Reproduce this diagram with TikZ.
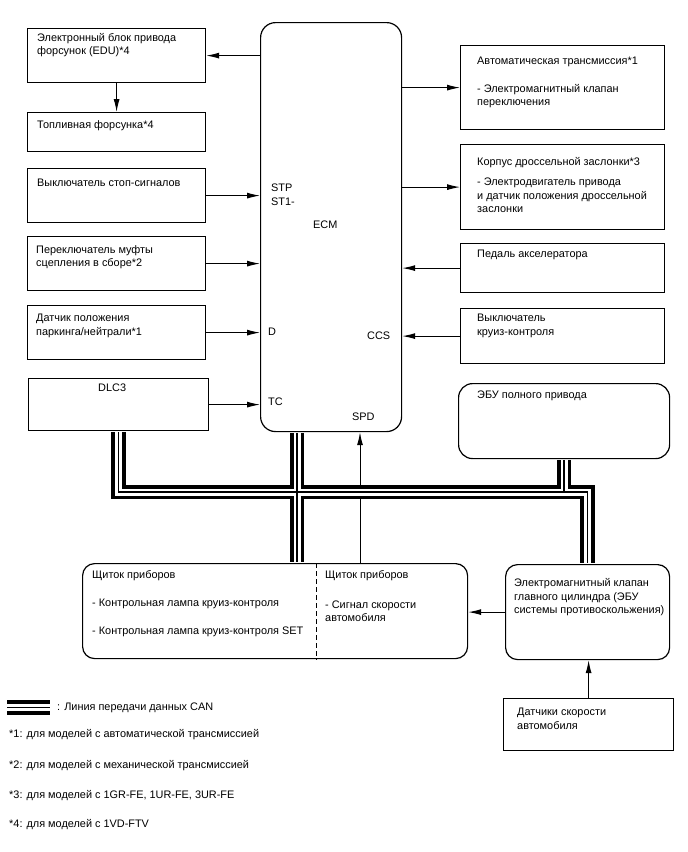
\documentclass[tikz,border=0pt]{standalone}
\usepackage{fontspec}
\setmainfont{Liberation Sans}
\usetikzlibrary{arrows.meta}

\tikzset{
  blk/.style={draw, line width=1.2pt, anchor=north west, inner sep=0pt},
  rblk/.style={blk, rounded corners=14pt},
  lbl/.style={anchor=north west, inner sep=0pt, align=left},
  sig/.style={line width=1pt, -{Latex[length=13pt,width=6pt]}},
}

\begin{document}
\begin{tikzpicture}[x=1pt, y=-1pt, font=\fontsize{10.9}{13.3}\selectfont]
\useasboundingbox (0,0) rectangle (688,852);

% left column
\node[blk, minimum width=178pt, minimum height=54pt] (edu) at (27,28) {};
\node[lbl] (edu-t) at (37,33) {Электронный блок привода\\форсунок (EDU)*4};
\node[blk, minimum width=178pt, minimum height=39pt] (inj) at (27,112) {};
\node[lbl] (inj-t) at (37,120.5) {Топливная форсунка*4};
\node[blk, minimum width=178pt, minimum height=54pt] (stop) at (27,168) {};
\node[lbl] (stop-t) at (37,178.5) {Выключатель стоп-сигналов};
\node[blk, minimum width=178pt, minimum height=54pt] (clutch) at (27,236) {};
\node[lbl] (clutch-t) at (36,245.5) {Переключатель муфты\\сцепления в сборе*2};
\node[blk, minimum width=178pt, minimum height=54pt] (pn) at (27,305) {};
\node[lbl] (pn-t) at (36,314) {Датчик положения\\паркинга/нейтрали*1};
\node[blk, minimum width=180pt, minimum height=52pt] (dlc) at (28,378) {};
\node[lbl] (dlc-t) at (98,384) {DLC3};

% ECM
\node[rblk, rounded corners=15pt, minimum width=141pt, minimum height=409pt] (ecm) at (260,22) {};
\node[lbl] (stp) at (271,184) {STP\\ST1-};
\node[lbl] (ecm-t) at (313,220.5) {ECM};
\node[lbl] (d) at (268,327.5) {D};
\node[lbl] (tc) at (268,398) {TC};
\node[lbl] (ccs-pin) at (367,331.5) {CCS};
\node[lbl] (spd-pin) at (352,412.5) {SPD};

% right column
\node[blk, minimum width=204pt, minimum height=84pt] (at) at (460,45) {};
\node[lbl] (at-t) at (477,57) {Автоматическая трансмиссия*1};
\node[lbl] (at-b) at (477,84) {- Электромагнитный клапан\\переключения};
\node[blk, minimum width=204pt, minimum height=85pt] (thr) at (460,144) {};
\node[lbl] (thr-t) at (477,157) {Корпус дроссельной заслонки*3};
\node[lbl] (thr-b) at (477,178) {- Электродвигатель привода\\и датчик положения дроссельной\\заслонки};
\node[blk, minimum width=204pt, minimum height=49pt] (ped) at (460,243) {};
\node[lbl] (ped-t) at (477,250) {Педаль акселератора};
\node[blk, minimum width=204pt, minimum height=55pt] (ccs) at (460,308) {};
\node[lbl] (ccs-t) at (477,314) {Выключатель\\круиз-контроля};
\node[rblk, minimum width=211pt, minimum height=75pt] (fwd) at (458,383) {};
\node[lbl] (fwd-t) at (477,391) {ЭБУ полного привода};

% bottom row
\node[rblk, rounded corners=12pt, minimum width=385pt, minimum height=95pt] (meter) at (82,563) {};
\node[lbl] (meter-t) at (92,570.5) {Щиток приборов};
\node[lbl] (meter-a) at (92,598.5) {- Контрольная лампа круиз-контроля};
\node[lbl] (meter-b) at (92,627) {- Контрольная лампа круиз-контроля SET};
\node[lbl] (meter-r) at (325,570.5) {Щиток приборов};
\node[lbl] (meter-s) at (325,600.5) {- Сигнал скорости\\автомобиля};
\node[rblk, rounded corners=12pt, minimum width=164pt, minimum height=95pt] (abs) at (505,564) {};
\node[lbl] (abs-t) at (514,578.5) {Электромагнитный клапан\\главного цилиндра (ЭБУ\\системы противоскольжения)};
\node[blk, minimum width=170pt, minimum height=52pt] (spd) at (503,698) {};
\node[lbl] (spd-t) at (517,708) {Датчики скорости\\автомобиля};

% legend and notes
\coordinate (leg-a) at (7,707.5);
\coordinate (leg-b) at (50,707.5);
\node[lbl] (leg-t) at (57,702.5) {: Линия передачи данных CAN};
\node[lbl] (note1) at (9,729) {*1: для моделей с автоматической трансмиссией};
\node[lbl] (note2) at (9,760.5) {*2: для моделей с механической трансмиссией};
\node[lbl] (note3) at (9,790.5) {*3: для моделей с 1GR-FE, 1UR-FE, 3UR-FE};
\node[lbl] (note4) at (9,819.5) {*4: для моделей с 1VD-FTV};

% signal lines
\draw[sig] (ecm.west |- edu.east) -- (edu.east);
\draw[sig] (edu.south) -- (inj.north);
\draw[sig] (stop.east) -- (ecm.west |- stop.east);
\draw[sig] (clutch.east) -- (ecm.west |- clutch.east);
\draw[sig] (pn.east) -- (ecm.west |- pn.east);
\draw[sig] (dlc.east) -- (ecm.west |- dlc.east);
\draw[sig] (ecm.east |- at.west) -- (at.west);
\draw[sig] (ecm.east |- thr.west) -- (thr.west);
\draw[sig] (ped.west) -- (ecm.east |- ped.west);
\draw[sig] (ccs.west) -- (ecm.east |- ccs.west);
\coordinate (spdx) at (360,0);
\draw[sig] (meter.north -| spdx) -- (ecm.south -| spdx);
\draw[sig] (abs.west) -- (meter.east |- abs.west);
\draw[sig] (spd.north) -- (abs.south -| spd.north);

% divider in the meter
\coordinate (div) at (316,0);
\draw[line width=1pt, dash pattern=on 5pt off 3pt] (meter.north -| div) -- (meter.south -| div);

% CAN bus, drawn in three layers
\coordinate (canj) at (297,492);
\foreach \w/\c in {14.5pt/black, 7pt/white, 1.5pt/black} {
  \draw[line width=\w, \c, shorten <=0.6pt, shorten >=0.6pt] (dlc.south) |- (abs.north |- canj) -- (abs.north);
  \draw[line width=\w, \c, shorten <=0.6pt, shorten >=0.6pt] (ecm.south -| canj) -- (meter.north -| canj);
  \draw[line width=\w, \c, shorten <=0.6pt] (fwd.south) -- (fwd.south |- canj);
  \draw[line width=\w, \c] (leg-a) -- (leg-b);
}
\end{tikzpicture}
\end{document}
